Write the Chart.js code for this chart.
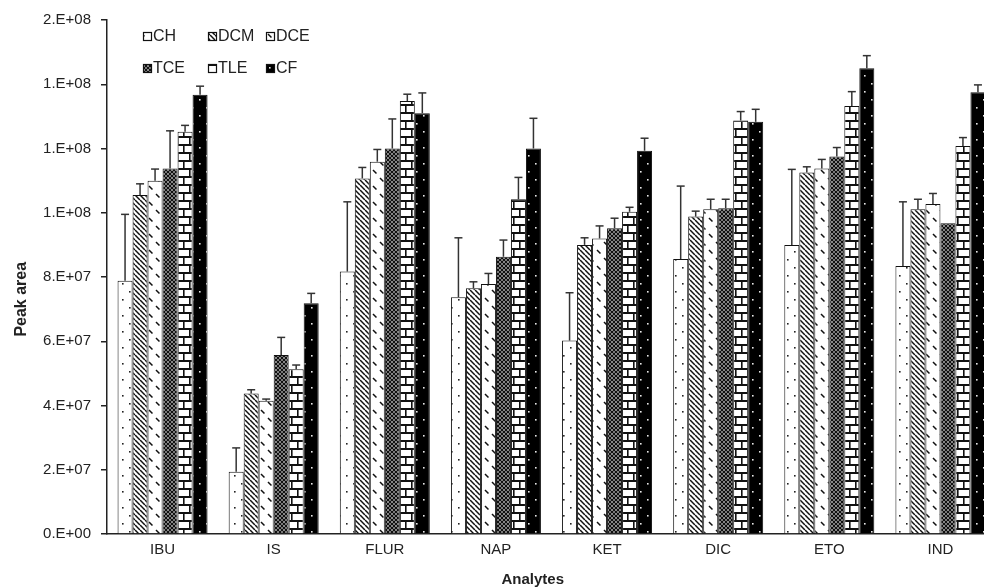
<!DOCTYPE html>
<html><head><meta charset="utf-8">
<script src="https://cdn.jsdelivr.net/npm/chart.js@4.4.1/dist/chart.umd.min.js"></script>
<style>
html,body{margin:0;padding:0;overflow:hidden;background:#fff;width:984px;height:588px}
#wrap{position:absolute;left:0;top:0;width:1000px;height:600px}
</style>
</head><body>
<div id="wrap"><canvas id="c"></canvas></div>
<script>
// ---- data ----
const categories = ["IBU","IS","FLUR","NAP","KET","DIC","ETO","IND"];
const seriesNames = ["CH","DCM","DCE","TCE","TLE","CF"];
const CH     = [7.88e7, 1.94e7, 8.17e7, 7.37e7, 6.02e7, 8.56e7, 9.00e7, 8.34e7];
const CH_err = [2.07e7, 0.74e7, 2.17e7, 1.85e7, 1.49e7, 2.27e7, 2.35e7, 2.00e7];
const DCM     = [10.55e7, 4.37e7, 11.07e7, 7.65e7, 9.00e7, 9.88e7, 11.25e7, 10.11e7];
const DCM_err = [0.35e7, 0.12e7, 0.34e7, 0.20e7, 0.22e7, 0.17e7, 0.18e7, 0.31e7];
const DCE     = [11.00e7, 4.15e7, 11.59e7, 7.78e7, 9.20e7, 10.11e7, 11.38e7, 10.27e7];
const DCE_err = [0.36e7, 0.05e7, 0.38e7, 0.33e7, 0.39e7, 0.31e7, 0.28e7, 0.33e7];
const TCE     = [11.38e7, 5.57e7, 12.00e7, 8.63e7, 9.52e7, 10.14e7, 11.75e7, 9.67e7];
const TCE_err = [1.17e7, 0.55e7, 0.92e7, 0.52e7, 0.31e7, 0.28e7, 0.28e7, 0];
const TLE     = [12.52e7, 5.13e7, 13.48e7, 10.42e7, 10.03e7, 12.87e7, 13.32e7, 12.08e7];
const TLE_err = [0.20e7, 0.13e7, 0.21e7, 0.68e7, 0.14e7, 0.28e7, 0.45e7, 0.26e7];
const CF     = [13.67e7, 7.18e7, 13.10e7, 12.00e7, 11.93e7, 12.83e7, 14.50e7, 13.75e7];
const CF_err = [0.27e7, 0.31e7, 0.63e7, 0.94e7, 0.39e7, 0.39e7, 0.39e7, 0.23e7];
const yTickLabels = ["0.E+00","2.E+07","4.E+07","6.E+07","8.E+07","1.E+08","1.E+08","1.E+08","2.E+08"];
const yTitle = "Peak area";
const xTitle = "Analytes";

const seriesValues = [CH, DCM, DCE, TCE, TLE, CF];
const seriesErrors = [CH_err, DCM_err, DCE_err, TCE_err, TLE_err, CF_err];

// ---- patterns ----
function makePattern(kind){
  const c = document.createElement('canvas');
  let w = 8, h = 8;
  if (kind === 'CH' || kind === 'CF') { w = 14; h = 16; }
  if (kind === 'DCM') { w = 5; h = 5; }
  if (kind === 'DCE') { w = 14; h = 16; }
  if (kind === 'TCE') { w = 4; h = 4; }
  if (kind === 'TLE') { w = 12; h = 16; }
  c.width = w; c.height = h;
  const g = c.getContext('2d');
  g.fillStyle = kind === 'CF' ? '#000' : '#fff';
  g.fillRect(0,0,w,h);
  g.strokeStyle = '#111'; g.fillStyle = '#222';
  if (kind === 'CH') {
    g.fillRect(3,3,1.6,1.6); g.fillRect(10,11,1.6,1.6);
  } else if (kind === 'CF') {
    g.fillStyle = '#e8e8e8';
    g.fillRect(3,3,1.6,1.6); g.fillRect(10,11,1.6,1.6);
  } else if (kind === 'DCM') {
    g.lineWidth = 1.5;
    for (let k=-1;k<=1;k++){ g.beginPath(); g.moveTo(k*w,0); g.lineTo(k*w+w,h); g.stroke(); }
  } else if (kind === 'DCE') {
    g.lineWidth = 1.5;
    g.beginPath(); g.moveTo(2,2); g.lineTo(5.5,5.5); g.stroke();
    g.beginPath(); g.moveTo(9,10); g.lineTo(12.5,13.5); g.stroke();
  } else if (kind === 'TCE') {
    g.lineWidth = 1.5;
    for (let k=-1;k<=1;k++){
      g.beginPath(); g.moveTo(k*w,0); g.lineTo(k*w+w,h); g.stroke();
      g.beginPath(); g.moveTo(k*w+w,0); g.lineTo(k*w,h); g.stroke();
    }
  } else if (kind === 'TLE') {
    g.fillStyle = '#111';
    g.fillRect(0,0,w,2); g.fillRect(0,8,w,2);
    g.fillRect(3,0,1.6,8); g.fillRect(9,8,1.6,8);
  }
  return g.createPattern(c,'repeat');
}

const fills = seriesNames.map(makePattern);

// ---- plugins ----
const errorBars = {
  id: 'errorBars',
  afterDatasetsDraw(chart){
    const ctx = chart.ctx, ys = chart.scales.y;
    ctx.save();
    ctx.strokeStyle = '#333'; ctx.lineWidth = 1.5;
    chart.data.datasets.forEach((ds, di) => {
      const meta = chart.getDatasetMeta(di);
      meta.data.forEach((bar, i) => {
        const e = seriesErrors[di][i];
        if (!e) return;
        const yt = ys.getPixelForValue(ds.data[i] + e);
        ctx.beginPath(); ctx.moveTo(bar.x, bar.y); ctx.lineTo(bar.x, yt); ctx.stroke();
        ctx.beginPath(); ctx.moveTo(bar.x-4, yt); ctx.lineTo(bar.x+4, yt); ctx.stroke();
      });
    });
    ctx.restore();
  }
};

const gridLegend = {
  id: 'gridLegend',
  afterDraw(chart){
    const ctx = chart.ctx;
    const colX = [143, 208, 266], rowY = [36, 68];
    ctx.save();
    ctx.font = '16px "Liberation Sans", Arial, sans-serif';
    ctx.textBaseline = 'middle'; ctx.textAlign = 'left';
    chart.data.datasets.forEach((ds, i) => {
      const x = colX[i % 3], y = rowY[Math.floor(i / 3)];
      ctx.fillStyle = ds.backgroundColor;
      ctx.fillRect(x, y-4, 9, 9);
      ctx.strokeStyle = '#111'; ctx.lineWidth = 1.2;
      ctx.strokeRect(x+0.5, y-3.5, 8, 8);
      ctx.fillStyle = '#222';
      ctx.fillText(ds.label, x + 10, y + 1);
    });
    ctx.restore();
  }
};

const datasets = seriesNames.map((name, i) => ({
  label: name,
  data: seriesValues[i],
  backgroundColor: fills[i],
  borderColor: '#111',
  borderWidth: 1,
  barPercentage: 1,
  categoryPercentage: 0.81
}));

const fontFam = '"Liberation Sans", Arial, sans-serif';
new Chart(document.getElementById('c'), {
  type: 'bar',
  data: { labels: categories, datasets },
  plugins: [errorBars, gridLegend],
  options: {
    responsive: true, maintainAspectRatio: false, animation: false,
    devicePixelRatio: 1,
    layout: { padding: { top: 20, right: 4, bottom: 0, left: 0 } },
    plugins: { legend: { display: false }, tooltip: { enabled: false } },
    scales: {
      x: {
        grid: { display: false, drawTicks: false },
        border: { display: true, color: '#222', width: 1.5 },
        ticks: { color: '#222', font: { family: fontFam, size: 15 }, padding: 7 },
        title: { display: true, text: xTitle + '\u00a0'.repeat(9), color: '#222', font: { family: fontFam, size: 15, weight: 'bold' }, padding: { top: 0, bottom: 11 } },
        afterFit(s){ s.height = 66; }
      },
      y: {
        min: 0, max: 1.6e8,
        grid: { display: true, drawOnChartArea: false, drawTicks: true, tickLength: 6, color: '#222', lineWidth: 1.5 },
        border: { display: true, color: '#222', width: 1.5 },
        ticks: { stepSize: 2e7, color: '#222', font: { family: fontFam, size: 15 }, padding: 10,
          callback: (v, i) => yTickLabels[i] },
        title: { display: true, text: yTitle + '\u00a0'.repeat(10), color: '#222', font: { family: fontFam, size: 16, weight: 'bold' }, padding: { top: 12, bottom: 0 } },
        afterFit(s){ s.width = 107; }
      }
    }
  }
});
</script>
</body></html>
